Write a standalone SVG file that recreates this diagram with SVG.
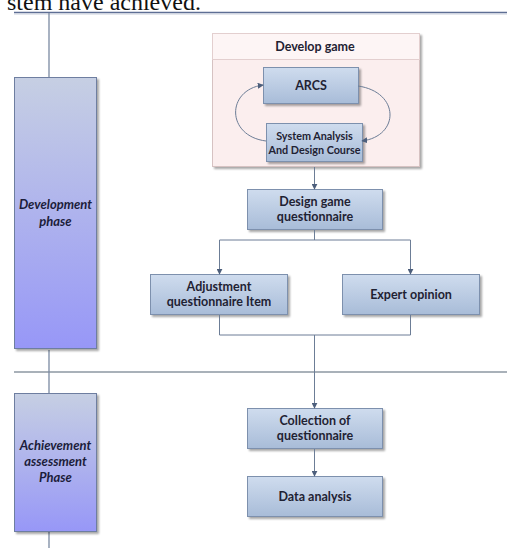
<svg xmlns="http://www.w3.org/2000/svg" width="507" height="548" viewBox="0 0 507 548">
  <defs>
    <linearGradient id="nodeFill" x1="0" y1="0" x2="0" y2="1">
      <stop offset="0" stop-color="#cfdcee"/>
      <stop offset="1" stop-color="#a8bcd8"/>
    </linearGradient>
    <linearGradient id="phaseFill" x1="0" y1="0" x2="0" y2="1">
      <stop offset="0" stop-color="#c6cfe3"/>
      <stop offset="1" stop-color="#9797f7"/>
    </linearGradient>
    <filter id="shadow" x="-10%" y="-10%" width="125%" height="130%">
      <feGaussianBlur in="SourceAlpha" stdDeviation="1.2"/>
      <feOffset dx="1.5" dy="1.5" result="b"/>
      <feComponentTransfer><feFuncA type="linear" slope="0.35"/></feComponentTransfer>
      <feMerge><feMergeNode/><feMergeNode in="SourceGraphic"/></feMerge>
    </filter>
    <marker id="arrow" viewBox="0 0 8 8" refX="7" refY="4" markerWidth="6" markerHeight="6" orient="auto" markerUnits="userSpaceOnUse">
      <path d="M0,0 L8,4 L0,8 z" fill="#4d5f7c"/>
    </marker>
  </defs>
  <style>
    .node rect { fill: url(#nodeFill); stroke: #7d90ad; stroke-width: 1; filter: url(#shadow); }
    .phase rect { fill: url(#phaseFill); stroke: #6e7ea0; stroke-width: 1; filter: url(#shadow); }
    .label { font-family: Lato, "Open Sans", "Liberation Sans", sans-serif; font-weight: bold; fill: #1f2233; text-anchor: middle; }
    .phase text { font-family: Lato, "Open Sans", "Liberation Sans", sans-serif; font-weight: bold; font-style: italic; fill: #1c1d3a; text-anchor: middle; font-size: 13px; }
    .conn { fill: none; stroke: #6c7d96; stroke-width: 1; }
    .spine { fill: none; stroke: #7b8aa2; stroke-width: 1.3; }
  </style>

  <rect width="507" height="548" fill="#ffffff"/>

  <!-- running text from the page above -->
  <text x="7" y="10" font-family="'Liberation Serif', 'Times New Roman', serif" font-size="24" fill="#111">stem have achieved.</text>

  <!-- lane rules -->
  <g id="lanes">
    <line x1="14" y1="12.5" x2="507" y2="12.5" stroke="#5e6e94" stroke-width="1.5"/>
    <line x1="14" y1="14" x2="507" y2="14" stroke="#c9cfdc" stroke-width="1"/>
    <line x1="14" y1="372" x2="507" y2="372" stroke="#a9b1b9" stroke-width="2"/>
    <path class="spine" d="M49,13 V77 M49,350 V393 M49,532 V548"/>
  </g>

  <!-- phase bars -->
  <g id="phase-development" class="phase">
    <rect x="14.5" y="77.5" width="82" height="271"/>
    <text x="55.5" y="209">Development</text>
    <text x="55.5" y="226">phase</text>
  </g>
  <g id="phase-achievement" class="phase">
    <rect x="14.5" y="393.5" width="82" height="138"/>
    <text x="55.5" y="450">Achievement</text>
    <text x="55.5" y="466">assessment</text>
    <text x="55.5" y="482">Phase</text>
  </g>

  <!-- container: develop game -->
  <g id="develop-game">
    <rect x="212.5" y="33.5" width="207" height="133" fill="#fbeeee" stroke="#d6c2c2" stroke-width="1" filter="url(#shadow)"/>
    <rect x="212.5" y="33.5" width="207" height="26" fill="#fdf5f5" stroke="#e3cfcf" stroke-width="1"/>
    <text class="label" x="315" y="51" font-size="12.5">Develop game</text>
  </g>

  <g id="arcs" class="node">
    <rect x="263.5" y="67.5" width="95" height="36"/>
    <text class="label" x="311" y="90" font-size="12.5">ARCS</text>
  </g>
  <g id="system-analysis" class="node">
    <rect x="266.5" y="123.5" width="96" height="38"/>
    <text class="label" x="314.5" y="139.5" font-size="10.8">System Analysis</text>
    <text class="label" x="314.5" y="154" font-size="10.8">And Design Course</text>
  </g>

  <g id="design-questionnaire" class="node">
    <rect x="247.5" y="189.5" width="135" height="40"/>
    <text class="label" x="315" y="206" font-size="12.5">Design game</text>
    <text class="label" x="315" y="221" font-size="12.5">questionnaire</text>
  </g>

  <g id="adjustment" class="node">
    <rect x="150.5" y="274.5" width="137" height="40"/>
    <text class="label" x="219" y="291" font-size="12.5">Adjustment</text>
    <text class="label" x="219" y="306" font-size="12.5">questionnaire Item</text>
  </g>

  <g id="expert-opinion" class="node">
    <rect x="342.5" y="274.5" width="137" height="40"/>
    <text class="label" x="411" y="299" font-size="12.5">Expert opinion</text>
  </g>

  <g id="collection" class="node">
    <rect x="247.5" y="408.5" width="135" height="40"/>
    <text class="label" x="315" y="425" font-size="12.5">Collection of</text>
    <text class="label" x="315" y="440" font-size="12.5">questionnaire</text>
  </g>

  <g id="data-analysis" class="node">
    <rect x="247.5" y="476.5" width="135" height="40"/>
    <text class="label" x="315" y="501" font-size="12.5">Data analysis</text>
  </g>

  <!-- connectors -->
  <g id="connectors">
    <path class="conn" d="M266,141 C226,136 226,90 263,85" marker-end="url(#arrow)"/>
    <path class="conn" d="M358,86 C400,92 400,136 362,141" marker-end="url(#arrow)"/>
    <path class="conn" d="M314.5,167 V189" marker-end="url(#arrow)"/>
    <path class="conn" d="M314.5,230 V240 M219.5,240 H410.5"/>
    <path class="conn" d="M219.5,240 V274" marker-end="url(#arrow)"/>
    <path class="conn" d="M410.5,240 V274" marker-end="url(#arrow)"/>
    <path class="conn" d="M219.5,315 V335 H410.5 V315"/>
    <path class="conn" d="M314.5,335 V408" marker-end="url(#arrow)"/>
    <path class="conn" d="M314.5,449 V476" marker-end="url(#arrow)"/>
  </g>
</svg>
